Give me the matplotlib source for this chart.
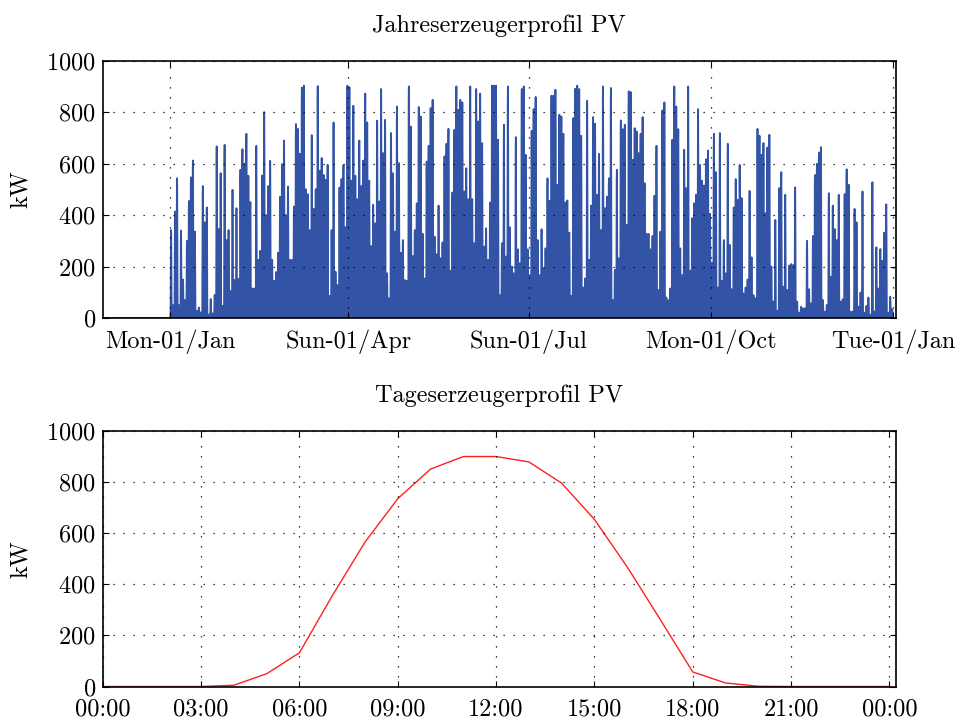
import numpy as np
import pandas as pd
import matplotlib
matplotlib.use("Agg")
import matplotlib.pyplot as plt
import matplotlib.dates as mdates
from datetime import datetime


plt.rcParams["font.family"] = "serif"
plt.rcParams["font.serif"] = ["cmr10"]
plt.rcParams["axes.formatter.use_mathtext"] = True
plt.rcParams["mathtext.fontset"] = "cm"

FONT = 17.5

# typical day, kW per hour (00:00 .. 24:00)
DAY_HOURS = list(range(25))
DAY_PROFILE = [0, 0, 0, 0, 5, 50, 132, 355, 565, 735, 851, 900, 900,
               879, 796, 654, 468, 264, 57, 14, 1, 0, 0, 0, 0]

# daily peak power over the year, kW
JAN = [342, 50, 414, 543, 50, 340, 150, 70, 300, 455, 547, 612, 336, 28, 41, 22,
       513, 372, 430, 14, 74, 18, 90, 667, 346, 563, 47, 673, 303, 342, 105]
FEB = [498, 148, 427, 152, 576, 656, 599, 716, 553, 451, 115, 115, 669, 226, 261,
       554, 800, 400, 513, 611, 226, 145, 179, 254, 471, 598, 690, 400]
MAR = [511, 226, 226, 433, 754, 735, 638, 895, 903, 501, 481, 342, 711, 424, 501,
       901, 572, 622, 556, 537, 595, 86, 342, 760, 180, 128, 507, 540, 594, 353, 903]
APR = [897, 534, 825, 553, 462, 690, 513, 612, 872, 760, 534, 280, 440, 368, 767,
       453, 890, 641, 770, 174, 77, 719, 563, 336, 822, 602, 254, 303, 148, 145]
MAY = [900, 744, 241, 342, 446, 820, 783, 327, 154, 608, 669, 816, 848, 316, 248,
       437, 232, 294, 628, 677, 735, 184, 488, 731, 900, 809, 848, 838, 492, 582, 462]
JUN = [900, 462, 291, 890, 764, 872, 680, 278, 349, 226, 449, 903, 903, 903, 693,
       89, 291, 751, 239, 900, 353, 200, 174, 703, 267, 213, 890, 900, 634, 267]
JUL = [167, 728, 812, 859, 303, 167, 345, 193, 271, 543, 455, 864, 864, 887, 518,
       790, 783, 716, 449, 457, 332, 86, 777, 891, 903, 890, 708, 119, 154, 844, 226]
AUG = [437, 781, 755, 479, 638, 342, 900, 427, 472, 543, 894, 70, 187, 576, 232,
       768, 734, 751, 362, 881, 878, 615, 738, 725, 641, 716, 781, 524, 327, 327, 267]
SEP = [319, 475, 669, 109, 336, 807, 838, 80, 70, 115, 693, 900, 822, 734, 271,
       167, 654, 505, 900, 184, 388, 446, 479, 812, 595, 534, 515, 617, 651, 405]
OCT = [215, 716, 567, 119, 719, 145, 303, 174, 677, 284, 112, 430, 540, 459, 595,
       466, 96, 119, 150, 494, 236, 89, 77, 735, 708, 634, 680, 407, 663, 712, 200]
NOV = [64, 381, 28, 505, 567, 122, 479, 109, 204, 210, 206, 508, 64, 21, 44, 38,
       38, 300, 112, 57, 319, 556, 599, 643, 664, 70, 25, 51, 485, 161]
DEC = [437, 346, 303, 479, 64, 73, 482, 578, 518, 25, 25, 424, 372, 44, 99, 492,
       21, 47, 80, 12, 528, 25, 275, 115, 268, 223, 332, 442, 21, 83, 35]

YEAR_TICKS = [datetime(2007, 1, 1), datetime(2007, 4, 1), datetime(2007, 7, 1),
              datetime(2007, 10, 1), datetime(2008, 1, 1)]
DAY_TICKS = [0, 3, 6, 9, 12, 15, 18, 21, 24]
DAY_TICK_LABELS = ["00:00", "03:00", "06:00", "09:00", "12:00",
                   "15:00", "18:00", "21:00", "00:00"]


def style_axes(ax, xpad=8):
    ax.tick_params(direction="in", top=True, right=True, length=4, width=0.8,
                   labelsize=FONT)
    ax.tick_params(axis="x", pad=xpad)
    ax.tick_params(axis="y", pad=5)
    for spine in ax.spines.values():
        spine.set_linewidth(1.2)
    ax.grid(True, color="black", linestyle=(0, (1, 7)), linewidth=0.9)
    ax.set_axisbelow(False)
    ax.set_ylim(0, 1000)
    ax.set_yticks(range(0, 1001, 200))
    ax.set_ylabel("kW", fontsize=FONT, labelpad=10)


# hourly series: each day follows the typical day shape, scaled to its peak
peaks = np.array(JAN + FEB + MAR + APR + MAY + JUN + JUL + AUG + SEP + OCT + NOV + DEC)
shape = np.array(DAY_PROFILE[:24]) / max(DAY_PROFILE)
hourly = np.outer(peaks, shape).ravel()
times = pd.date_range("2007-01-01", periods=len(hourly), freq="h")
lead = pd.date_range("2006-11-28", "2006-12-31 23:00", freq="h")
times = np.concatenate([lead.to_numpy(), times.to_numpy()])
hourly = np.concatenate([np.zeros(len(lead)), hourly])

fig = plt.figure(figsize=(9.56, 7.2), dpi=100)
ax1 = fig.add_axes([0.1075, 0.5583, 0.8295, 0.3574])
ax2 = fig.add_axes([0.1075, 0.0465, 0.8297, 0.3549])

ax1.plot(times, hourly, color="#3253a6", linewidth=1.3)
ax1.set_xlim(datetime(2006, 11, 28), datetime(2008, 1, 2, 7))
ax1.set_xticks(YEAR_TICKS)
ax1.xaxis.set_major_formatter(mdates.DateFormatter("%a-%d/%b"))
ax1.set_title("Jahreserzeugerprofil PV", fontsize=FONT, pad=21)
style_axes(ax1)

ax2.plot(DAY_HOURS, DAY_PROFILE, color="#ff2020", linewidth=1.0)
ax2.set_xlim(0, 24.2)
ax2.set_xticks(DAY_TICKS)
ax2.set_xticklabels(DAY_TICK_LABELS)
ax2.set_title("Tageserzeugerprofil PV", fontsize=FONT, pad=21)
style_axes(ax2, xpad=8.6)

fig.savefig("out.png", dpi=100)
